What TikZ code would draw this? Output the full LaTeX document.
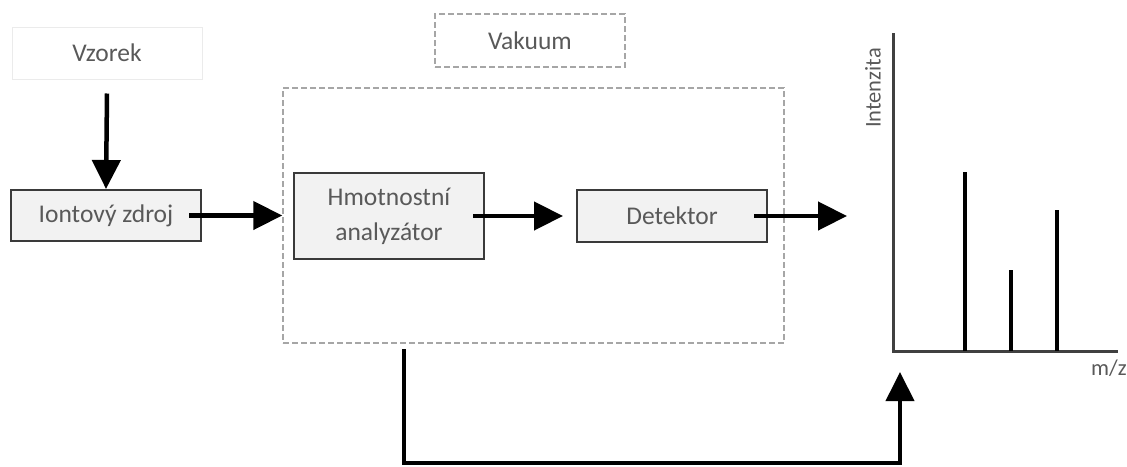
\documentclass[tikz,border=0pt]{standalone}
\usepackage{fontspec}
\setmainfont{Carlito}
\usetikzlibrary{arrows.meta}
\definecolor{txtgray}{HTML}{595959}
\definecolor{boxfill}{HTML}{F2F2F2}
\definecolor{boxline}{HTML}{3A3A3A}
\definecolor{dashgray}{HTML}{A6A6A6}
\definecolor{axisgray}{HTML}{404040}
\tikzset{
  unit/.style={draw=boxline, line width=2pt, fill=boxfill, text=txtgray,
    minimum width=190pt, align=center, inner sep=0pt,
    font=\fontsize{25.5}{35}\selectfont},
  inputbox/.style={draw=black!8, line width=1pt, text=txtgray,
    minimum width=190pt, minimum height=52pt,
    font=\fontsize{25.5}{35}\selectfont},
  vacline/.style={draw=dashgray, line width=1.5pt, dash pattern=on 6pt off 3pt},
  conn/.style={line width=4.5pt, -{Triangle[width=28pt,length=29pt]}},
  axisline/.style={draw=axisgray, line width=3pt},
  peak/.style={line width=3.5pt},
  axislabel/.style={text=txtgray, font=\fontsize{22.5}{26}\selectfont}
}
\begin{document}
\begin{tikzpicture}[x=1pt, y=-1pt]
  \useasboundingbox (0,0) rectangle (1127,466);
  % vacuum region
  \node[vacline, minimum width=501pt, minimum height=255pt] (vakbox) at (533.5,215.5) {};
  \node[vacline, minimum width=190pt, minimum height=53pt, text=txtgray,
    font=\fontsize{25.5}{35}\selectfont] (vak) at (530,40.5) {Vakuum};
  % blocks
  \node[inputbox] (vz) at (107,53) {Vzorek};
  \node[unit, minimum height=51pt] (iz) at (106,215.5) {Iontový zdroj};
  \node[unit, minimum height=86pt] (hm) at (389,216) {Hmotnostní\\analyzátor};
  \node[unit, minimum height=52pt] (det) at (672,216) {Detektor};
  % spectrum axes
  \coordinate (o) at (893,351);
  \coordinate (ytop) at (893,33);
  \coordinate (xend) at (1118,351);
  \draw[axisline] (ytop) -- (o) -- (xend);
  \node[axislabel, rotate=90] (int) at (873,88) {Intenzita};
  \node[axislabel] (mz) at (1109,368) {m/z};
  % peaks
  \coordinate (p1) at (965,172);
  \coordinate (p2) at (1011,270);
  \coordinate (p3) at (1057,210);
  \draw[peak] (p1) -- (p1 |- o);
  \draw[peak] (p2) -- (p2 |- o);
  \draw[peak] (p3) -- (p3 |- o);
  % connectors
  \coordinate (dtip) at (847,216);
  \coordinate (fb) at (404,349);
  \coordinate (ft) at (900,372);
  \draw[conn] ([yshift=-14pt]vz.south) -- (iz.north);
  \draw[conn] ([xshift=-13pt]iz.east) -- (iz.east -| vakbox.west);
  \draw[conn] ([xshift=-12pt]hm.east) -- ([xshift=-13pt]det.west);
  \draw[conn] ([xshift=-14pt]det.east) -- (dtip);
  \draw[line width=4pt, -{Triangle[width=28pt,length=29pt]}]
    (fb) -- (fb |- 0,463) -| (ft);
\end{tikzpicture}
\end{document}
